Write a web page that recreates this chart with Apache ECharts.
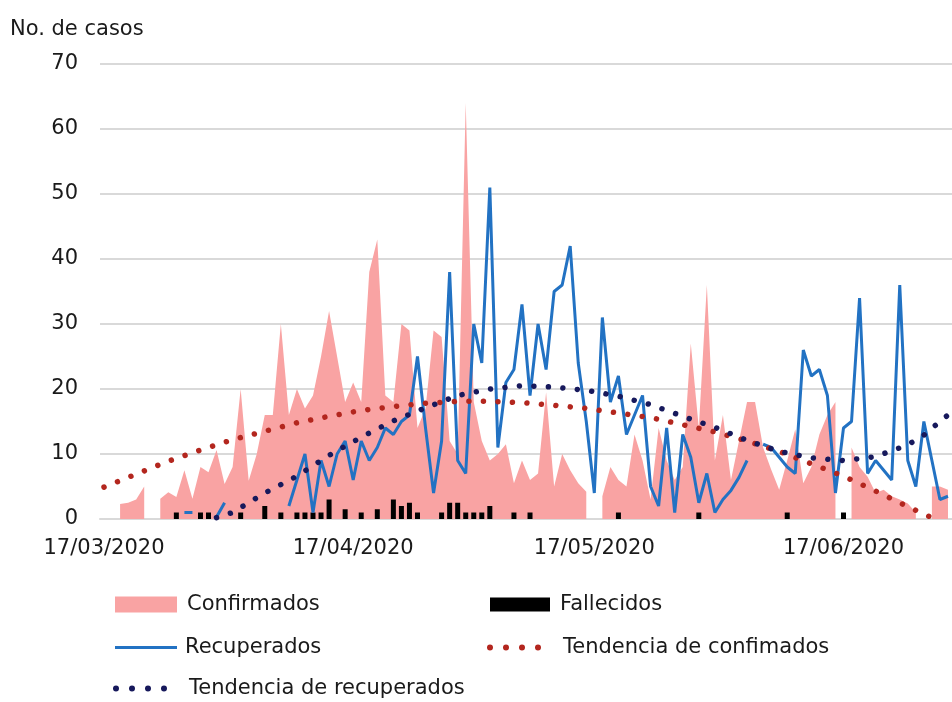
<!DOCTYPE html>
<html>
<head>
<meta charset="utf-8">
<script src="https://cdn.jsdelivr.net/npm/echarts@6/dist/echarts.min.js"></script>
<style>
    html, body { margin: 0; padding: 0; background: #fff; }
    #main { width: 952px; height: 702px; }
</style>
</head>
<body>
<div id="main"></div>
<script>
    // un dia por categoria, desde el 17/03/2020
    var dias = [];
    for (var i = 0; i < 106; i++) {
        var f = new Date(2020, 2, 17 + i);
        dias.push(('0' + f.getDate()).slice(-2) + '/' + ('0' + (f.getMonth() + 1)).slice(-2) + '/' + f.getFullYear());
    }
    var etiquetas = ['17/03/2020', '17/04/2020', '17/05/2020', '17/06/2020'];

    var n = null;
    var confirmados = [
        n, n, 2.3, 2.5, 3, 5, n, 3.1, 4.1, 3.4,
        7.5, 3.1, 8, 7.2, 10.6, 5.4, 8, 20, 5.9, 10,
        16, 16, 30, 16, 20, 17, 19, 25, 32, 25,
        18, 21, 18, 38, 43, 19, 18, 30, 29, 14,
        17, 29, 28, 12, 10, 64, 18, 12, 9, 10,
        11.5, 5.5, 9, 6, 7, 19.5, 5, 10, 7.5, 5.5,
        4.2, n, 3.5, 8, 6, 5, 13, 9, 3, 14,
        9, 6, 8, 27, 14, 36, 9, 16, 6, 12,
        18, 18, 11, 7.6, 4.5, 9, 13.8, 5.5, 8, 13,
        16, 18, n, 11, 8, 6.5, 4, 4.5, 3.5, 3,
        2.4, 1, n, 5, 5, 4.5
    ];
    var fallecidos = [
        n, n, n, n, n, n, n, n, n, 1,
        n, n, 1, 1, n, n, n, 1, n, n,
        2, n, 1, n, 1, 1, 1, 1, 3, n,
        1.5, n, 1, n, 1.5, n, 3, 2, 2.5, 1,
        n, n, 1, 2.5, 2.5, 1, 1, 1, 2, n,
        n, 1, n, 1, n, n, n, n, n, n,
        n, n, n, n, 1, n, n, n, n, n,
        n, n, n, n, 1, n, n, n, n, n,
        n, n, n, n, n, 1, n, n, n, n,
        n, n, 1, n, n, n, n, n, n, n,
        n, n, n, n, n, n
    ];
    var recuperados = [
        n, n, n, n, n, n, n, n, n, n,
        1, 1, n, n, 0.3, 2.5, n, n, n, n,
        n, n, n, 2, 6, 10, 1, 9, 5, 10,
        12, 6, 12, 9, 11, 14, 13, 15, 16, 25,
        14, 4, 12, 38, 9, 7, 30, 24, 51, 11,
        21, 23, 33, 19, 30, 23, 35, 36, 42, 24,
        15, 4, 31, 18, 22, 13, 16, 19, 5, 2,
        14, 1, 13, 9.5, 2.5, 7, 1, 3, 4.4, 6.4,
        9, n, 11.5, 11, 9.5, 8, 7, 26, 22, 23,
        19, 4, 14, 15, 34, 7, 9, 7.5, 6, 36,
        9, 5, 15, 9, 3, 3.5
    ];
    // lineas de tendencia: [dia, valor]
    var tendConfirmados = [
        [0, 4.9], [4, 6.9], [8, 8.9], [12, 10.6], [16, 12.2], [20, 13.5], [24, 14.8],
        [28, 15.8], [32, 16.7], [36, 17.3], [40, 17.8], [44, 18.1], [48, 18.1], [52, 17.9],
        [56, 17.5], [60, 17.0], [64, 16.3], [68, 15.6], [72, 14.5], [76, 13.4], [80, 12.0],
        [84, 10.4], [88, 8.5], [92, 6.6], [96, 4.3], [100, 1.9], [103, 0.2]
    ];
    var tendRecuperados = [
        [14, 0.2], [16, 1.0], [20, 4.0], [24, 6.6], [28, 9.8], [32, 12.6], [36, 15.1],
        [40, 17.1], [44, 19.0], [48, 20.0], [52, 20.5], [56, 20.3], [60, 19.8], [64, 18.9],
        [68, 17.6], [72, 15.8], [76, 14.1], [80, 12.1], [84, 10.4], [88, 9.4], [92, 9.0],
        [96, 9.6], [100, 11.4], [102, 12.9], [104, 15.0], [105, 16.0]
    ];

    var fuente = 'DejaVu Sans';
    var texto = '#1a1a1a';
    var rosa = '#f9a3a3', azul = '#2272c3', rojo = '#b3261e', marino = '#17195c';
    var puntos = 'path://M3,0A3,3,0,1,1,3,6A3,3,0,1,1,3,0Z' +
        'M19,0A3,3,0,1,1,19,6A3,3,0,1,1,19,0Z' +
        'M35,0A3,3,0,1,1,35,6A3,3,0,1,1,35,0Z' +
        'M51,0A3,3,0,1,1,51,6A3,3,0,1,1,51,0Z';

    function esEtiqueta(i, v) { return etiquetas.indexOf(v) >= 0; }

    function leyenda(nombre, icono, x, y, w, h, gap) {
        return {
            selectedMode: false, left: x, top: y, padding: 0,
            itemWidth: w, itemHeight: h, icon: icono,
            itemStyle: { borderWidth: 0 },
            data: [nombre],
            textStyle: { fontFamily: fuente, fontSize: 21, color: texto, padding: [0, 0, 0, gap] }
        };
    }

    var myChart = echarts.init(document.getElementById('main'));
    myChart.setOption({
        animation: false,
        backgroundColor: '#fff',
        textStyle: { fontFamily: fuente },
        graphic: [{
            type: 'text', left: 10, top: 19,
            style: { text: 'No. de casos', font: '21px "DejaVu Sans"', fill: texto }
        }],
        grid: { left: 100, top: 64, width: 855, height: 455 },
        legend: [
            leyenda('Confirmados', 'rect', 115, 594, 62, 16, 5),
            leyenda('Fallecidos', 'rect', 490, 594, 60, 14, 5),
            leyenda('Recuperados', 'rect', 115, 637, 62, 3, 3),
            leyenda('Tendencia de confimados', puntos, 487, 637, 54, 6, 17),
            leyenda('Tendencia de recuperados', puntos, 113, 678, 54, 6, 17)
        ],
        xAxis: {
            type: 'category', data: dias, boundaryGap: true,
            axisLine: { lineStyle: { color: '#d9d9d9', width: 2 } },
            axisTick: { interval: esEtiqueta, length: 6, lineStyle: { color: '#bfbfbf' } },
            axisLabel: { interval: esEtiqueta, fontSize: 21, color: texto, margin: 19, fontFamily: fuente }
        },
        yAxis: {
            type: 'value', min: 0, max: 70, interval: 10,
            axisLine: { show: false }, axisTick: { show: false },
            axisLabel: { fontSize: 21, color: texto, margin: 22, fontFamily: fuente },
            splitLine: { lineStyle: { color: '#d9d9d9', width: 2 } }
        },
        series: [
            {
                name: 'Confirmados', type: 'line', data: confirmados, symbol: 'none',
                lineStyle: { width: 0 }, itemStyle: { color: rosa },
                areaStyle: { color: rosa, opacity: 1 }, z: 1
            },
            {
                name: 'Fallecidos', type: 'bar', data: fallecidos, barWidth: 5,
                itemStyle: { color: '#000' }, z: 2
            },
            {
                name: 'Recuperados', type: 'line', data: recuperados, symbol: 'none',
                lineStyle: { color: azul, width: 3 }, itemStyle: { color: azul }, z: 3
            },
            {
                name: 'Tendencia de confimados', type: 'line', data: tendConfirmados, symbol: 'none',
                lineStyle: { color: rojo, width: 5.5, type: [0.01, 14.5], cap: 'round' },
                itemStyle: { color: rojo }, z: 4
            },
            {
                name: 'Tendencia de recuperados', type: 'line', data: tendRecuperados, symbol: 'none',
                lineStyle: { color: marino, width: 5.5, type: [0.01, 14.5], cap: 'round' },
                itemStyle: { color: marino }, z: 5
            }
        ]
    });
</script>
</body>
</html>
